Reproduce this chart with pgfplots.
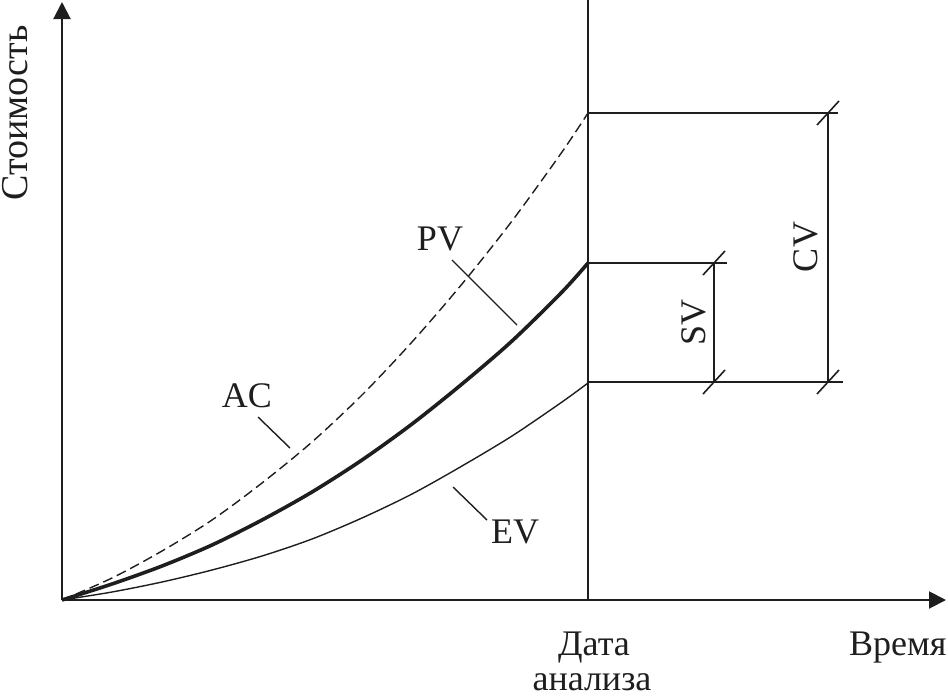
\documentclass[border=0pt]{standalone}
\usepackage{fontspec}
\setmainfont{Liberation Serif}
\usepackage{pgfplots}
\pgfplotsset{compat=1.18}
\usetikzlibrary{arrows.meta}
\definecolor{ink}{RGB}{30,30,30}
\tikzset{lbl/.style={text=ink, font=\fontsize{18}{21}\selectfont}}
\begin{document}
\begin{tikzpicture}
\begin{axis}[
  x=0.5pt, y=0.5pt,
  xmin=0, xmax=884, ymin=0, ymax=598,
  axis lines=left,
  ticks=none,
  clip=false,
  enlargelimits=false,
  axis line style={ink, line width=1pt, -{Triangle[length=8.5pt,width=8.5pt]}},
]
% AC (dashed)
\addplot[ink, line width=0.7pt, dash pattern=on 5pt off 2.5pt, smooth] coordinates {
(0,0) (50,22) (100,49) (150,80) (200,117) (250,158) (300,205) (350,258) (400,316) (450,379) (500,448) (526,487)};
% PV (thick)
\addplot[ink, line width=1.8pt, smooth] coordinates {
(0,0) (50,16) (100,34) (150,55) (200,80) (250,108) (300,140) (350,176) (400,216) (450,259) (500,308) (526,337)};
% EV (thin)
\addplot[ink, line width=0.7pt, smooth] coordinates {
(0,0) (50,8) (100,18) (150,30) (200,44) (250,61) (300,82) (350,106) (400,134) (450,164) (500,198) (526,217)};
% status date line
\addplot[ink, line width=0.8pt] coordinates {(526,0) (526,600)};
% reference levels
\addplot[ink, line width=0.8pt] coordinates {(526,487) (776,487)};
\addplot[ink, line width=0.8pt] coordinates {(526,337) (665,337)};
\addplot[ink, line width=0.8pt] coordinates {(526,218) (781,218)};
% dimension lines
\addplot[ink, line width=0.8pt] coordinates {(652,218) (652,337)};
\addplot[ink, line width=0.8pt] coordinates {(766,218) (766,487)};
% slashes
\draw[ink, line width=0.8pt] (axis cs:641,206) -- (axis cs:663,230);
\draw[ink, line width=0.8pt] (axis cs:641,325) -- (axis cs:663,349);
\draw[ink, line width=0.8pt] (axis cs:755,206) -- (axis cs:777,230);
\draw[ink, line width=0.8pt] (axis cs:755,475) -- (axis cs:777,499);
% leaders
\draw[ink, line width=0.7pt] (axis cs:390,340) -- (axis cs:455,275);
\draw[ink, line width=0.7pt] (axis cs:196,183) -- (axis cs:228,152);
\draw[ink, line width=0.7pt] (axis cs:391,113) -- (axis cs:425,80);
% labels
\node[lbl, anchor=base] at (axis cs:378,350) {PV};
\node[lbl, anchor=base] at (axis cs:185,193) {AC};
\node[lbl, anchor=base] at (axis cs:453,57) {EV};
\node[lbl, anchor=base, rotate=90] at (axis cs:643,278) {SV};
\node[lbl, anchor=base, rotate=90] at (axis cs:755,353) {CV};
\node[lbl, anchor=base, rotate=90, font=\fontsize{19}{22}\selectfont] at (axis cs:-34,487) {Стоимость};
\node[lbl, anchor=base west] at (axis cs:780,-55) {Время};
\node[lbl, anchor=base] at (axis cs:532,-55) {Дата};
\node[lbl, anchor=base] at (axis cs:530,-90) {анализа};
\end{axis}
\pgfresetboundingbox
\useasboundingbox (-31pt,-49pt) rectangle (443pt,300pt);
\end{tikzpicture}
\end{document}
